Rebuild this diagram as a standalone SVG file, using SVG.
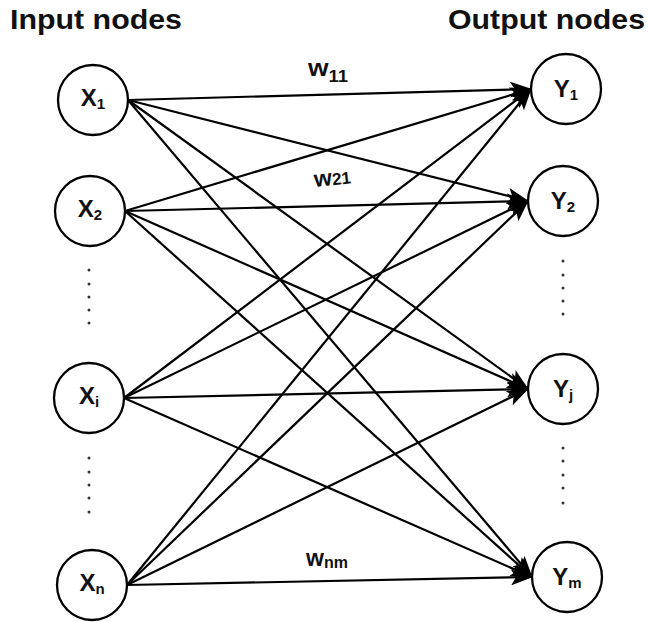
<svg xmlns="http://www.w3.org/2000/svg" width="649" height="622" viewBox="0 0 649 622">
  <style>
    .node { fill: #ffffff; stroke: #000000; stroke-width: 2.3; }
    .lbl { font-family: "Liberation Sans", Arial, sans-serif; font-weight: bold; fill: #111111; }
    .head { font-size: 28px; }
    .name { font-size: 24px; text-anchor: middle; }
    .sub { font-size: 15px; }
    .edge { stroke: #000000; stroke-width: 2.2; fill: none; marker-end: url(#arrow); }
    .dot { fill: #333333; }
  </style>
  <defs>
    <marker id="arrow" markerUnits="userSpaceOnUse" markerWidth="22" markerHeight="16" viewBox="0 0 22 16" refX="21" refY="8" orient="auto">
      <path d="M0,0 L22,8 L0,16 L5,8 Z" fill="#000000"/>
    </marker>
  </defs>
  <rect width="649" height="622" fill="#ffffff"/>

  <!-- column headings -->
  <text class="lbl head" x="10" y="29" textLength="172" lengthAdjust="spacingAndGlyphs">Input nodes</text>
  <text class="lbl head" x="448" y="29" textLength="197" lengthAdjust="spacingAndGlyphs">Output nodes</text>

  <!-- weighted connections: every input to every output -->
  <g id="connectors">
    <line class="edge" x1="128" y1="100" x2="531" y2="89"/>
    <line class="edge" x1="128" y1="100" x2="528" y2="201"/>
    <line class="edge" x1="128" y1="100" x2="528" y2="389"/>
    <line class="edge" x1="128" y1="100" x2="532" y2="577"/>

    <line class="edge" x1="125" y1="211" x2="531" y2="89"/>
    <line class="edge" x1="125" y1="211" x2="528" y2="201"/>
    <line class="edge" x1="125" y1="211" x2="528" y2="389"/>
    <line class="edge" x1="125" y1="211" x2="532" y2="577"/>

    <line class="edge" x1="124" y1="398" x2="531" y2="89"/>
    <line class="edge" x1="124" y1="398" x2="528" y2="201"/>
    <line class="edge" x1="124" y1="398" x2="528" y2="389"/>
    <line class="edge" x1="124" y1="398" x2="532" y2="577"/>

    <line class="edge" x1="127" y1="585" x2="531" y2="89"/>
    <line class="edge" x1="127" y1="585" x2="528" y2="201"/>
    <line class="edge" x1="127" y1="585" x2="528" y2="389"/>
    <line class="edge" x1="127" y1="585" x2="532" y2="577"/>
  </g>

  <!-- weight labels -->
  <g id="weights">
    <text class="lbl" x="308" y="76" font-size="23" textLength="40" lengthAdjust="spacingAndGlyphs">w<tspan font-size="16" dy="6">11</tspan></text>
    <text class="lbl" x="314" y="185" font-size="23" transform="rotate(-6 334 178)">w<tspan font-size="17" dy="0">21</tspan></text>
    <text class="lbl" x="306" y="566" font-size="23">w<tspan font-size="16" dy="2">nm</tspan></text>
  </g>

  <!-- input nodes -->
  <g id="x1"><circle class="node" cx="93" cy="100" r="35"/><text class="lbl name" x="93" y="106">X<tspan class="sub" dy="3">1</tspan></text></g>
  <g id="x2"><circle class="node" cx="90" cy="211" r="35"/><text class="lbl name" x="90" y="217">X<tspan class="sub" dy="3">2</tspan></text></g>
  <g id="xi"><circle class="node" cx="89" cy="398" r="35"/><text class="lbl name" x="89" y="404">X<tspan class="sub" dy="3">i</tspan></text></g>
  <g id="xn"><circle class="node" cx="92" cy="585" r="35"/><text class="lbl name" x="92" y="591">X<tspan class="sub" dy="3">n</tspan></text></g>

  <!-- output nodes -->
  <g id="y1"><circle class="node" cx="566" cy="89" r="35"/><text class="lbl name" x="566" y="97">Y<tspan class="sub" dy="3">1</tspan></text></g>
  <g id="y2"><circle class="node" cx="563" cy="201" r="35"/><text class="lbl name" x="563" y="209">Y<tspan class="sub" dy="3">2</tspan></text></g>
  <g id="yj"><circle class="node" cx="563" cy="389" r="35"/><text class="lbl name" x="563" y="397">Y<tspan class="sub" dy="3">j</tspan></text></g>
  <g id="ym"><circle class="node" cx="567" cy="577" r="35"/><text class="lbl name" x="567" y="585">Y<tspan class="sub" dy="3">m</tspan></text></g>

  <!-- ellipsis dots -->
  <g id="dots">
    <circle class="dot" cx="89" cy="270" r="1.5"/><circle class="dot" cx="89" cy="284" r="1.5"/><circle class="dot" cx="89" cy="297" r="1.5"/><circle class="dot" cx="89" cy="310" r="1.5"/><circle class="dot" cx="89" cy="323" r="1.5"/>
    <circle class="dot" cx="89" cy="458" r="1.5"/><circle class="dot" cx="89" cy="472" r="1.5"/><circle class="dot" cx="89" cy="485" r="1.5"/><circle class="dot" cx="89" cy="498" r="1.5"/><circle class="dot" cx="89" cy="512" r="1.5"/>
    <circle class="dot" cx="563" cy="261" r="1.5"/><circle class="dot" cx="563" cy="275" r="1.5"/><circle class="dot" cx="563" cy="288" r="1.5"/><circle class="dot" cx="563" cy="301" r="1.5"/><circle class="dot" cx="563" cy="314" r="1.5"/>
    <circle class="dot" cx="563" cy="448" r="1.5"/><circle class="dot" cx="563" cy="461" r="1.5"/><circle class="dot" cx="563" cy="475" r="1.5"/><circle class="dot" cx="563" cy="488" r="1.5"/><circle class="dot" cx="563" cy="503" r="1.5"/>
  </g>
</svg>
